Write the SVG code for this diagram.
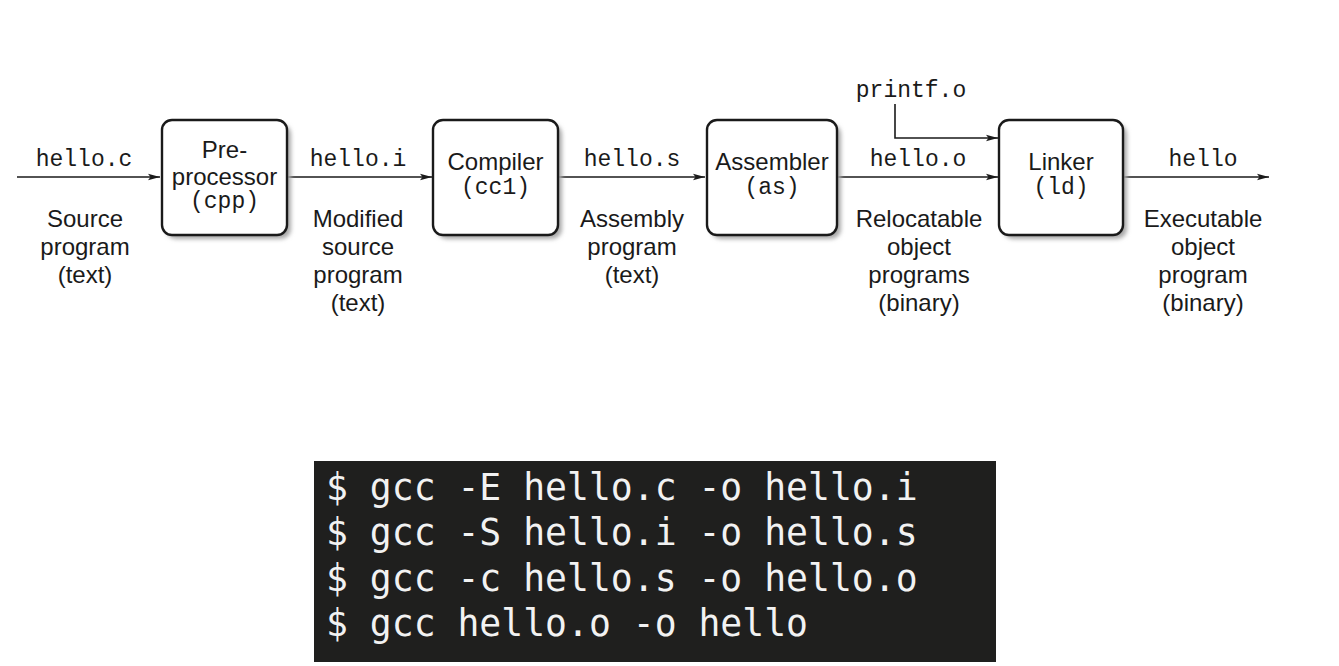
<svg xmlns="http://www.w3.org/2000/svg" width="1339" height="666" viewBox="0 0 1339 666">
<style>
.box{fill:#fff;stroke:#1a1a1a;stroke-width:2.4}
.sh{fill:#a8a8a8;filter:url(#blur)}
.sans{font-family:"Liberation Sans",Arial,sans-serif;font-size:24px;fill:#1a1a1a;text-anchor:middle}
.mono{font-family:"Liberation Mono","Courier New",monospace;font-size:23px;fill:#1a1a1a;text-anchor:middle}
.conn{fill:none;stroke:#1a1a1a;stroke-width:1.6;marker-end:url(#arr)}
.term{font-family:"DejaVu Sans Mono",monospace;font-size:36.4px;fill:#f2f2f2}
</style>
<defs>
<filter id="blur" x="-10%" y="-10%" width="130%" height="130%"><feGaussianBlur stdDeviation="2"/></filter>
<marker id="arr" viewBox="0 0 12 8" refX="12" refY="4" markerWidth="12" markerHeight="8" markerUnits="userSpaceOnUse" orient="auto"><path d="M0,0.8 L12,4 L0,7.2 L2.5,4 Z" fill="#1a1a1a"/></marker>
</defs>
<rect width="1339" height="666" fill="#fff"/>
<g id="connectors">
<line class="conn" x1="17" y1="177" x2="160" y2="177"/>
<line class="conn" x1="287" y1="177" x2="432" y2="177"/>
<line class="conn" x1="558" y1="177" x2="705" y2="177"/>
<line class="conn" x1="837" y1="177" x2="998" y2="177"/>
<line class="conn" x1="1123" y1="177" x2="1269" y2="177"/>
<path class="conn" d="M895,104 V138 H998"/>
</g>
<g id="labels">
<text class="mono" x="84" y="166">hello.c</text>
<text class="sans" x="85" y="227">Source</text>
<text class="sans" x="85" y="255">program</text>
<text class="sans" x="85" y="283">(text)</text>
<text class="mono" x="358" y="166">hello.i</text>
<text class="sans" x="358" y="227">Modified</text>
<text class="sans" x="358" y="255">source</text>
<text class="sans" x="358" y="283">program</text>
<text class="sans" x="358" y="311">(text)</text>
<text class="mono" x="632" y="166">hello.s</text>
<text class="sans" x="632" y="227">Assembly</text>
<text class="sans" x="632" y="255">program</text>
<text class="sans" x="632" y="283">(text)</text>
<text class="mono" x="911" y="97">printf.o</text>
<text class="mono" x="918" y="166">hello.o</text>
<text class="sans" x="919" y="227">Relocatable</text>
<text class="sans" x="919" y="255">object</text>
<text class="sans" x="919" y="283">programs</text>
<text class="sans" x="919" y="311">(binary)</text>
<text class="mono" x="1203" y="166">hello</text>
<text class="sans" x="1203" y="227">Executable</text>
<text class="sans" x="1203" y="255">object</text>
<text class="sans" x="1203" y="283">program</text>
<text class="sans" x="1203" y="311">(binary)</text>
</g>
<g id="preprocessor">
<rect class="sh" x="166" y="124" width="125" height="115" rx="10"/>
<rect class="box" x="162" y="120" width="125" height="115" rx="10"/>
<text class="sans" x="224.5" y="158">Pre-</text>
<text class="sans" x="224.5" y="185">processor</text>
<text class="mono" x="224.5" y="208">(cpp)</text>
</g>
<g id="compiler">
<rect class="sh" x="437" y="124" width="125" height="115" rx="10"/>
<rect class="box" x="433" y="120" width="125" height="115" rx="10"/>
<text class="sans" x="495.5" y="170">Compiler</text>
<text class="mono" x="495.5" y="194">(cc1)</text>
</g>
<g id="assembler">
<rect class="sh" x="711" y="124" width="130" height="115" rx="10"/>
<rect class="box" x="707" y="120" width="130" height="115" rx="10"/>
<text class="sans" x="772" y="170">Assembler</text>
<text class="mono" x="772" y="194">(as)</text>
</g>
<g id="linker">
<rect class="sh" x="1003" y="124" width="124" height="115" rx="10"/>
<rect class="box" x="999" y="120" width="124" height="115" rx="10"/>
<text class="sans" x="1061" y="170">Linker</text>
<text class="mono" x="1061" y="194">(ld)</text>
</g>
<g id="terminal">
<rect x="314" y="461" width="682" height="201" fill="#1f1f1e"/>
<text class="term" x="326" y="500">$ gcc -E hello.c -o hello.i</text>
<text class="term" x="326" y="545">$ gcc -S hello.i -o hello.s</text>
<text class="term" x="326" y="591">$ gcc -c hello.s -o hello.o</text>
<text class="term" x="326" y="636">$ gcc hello.o -o hello</text>
</g>
</svg>
